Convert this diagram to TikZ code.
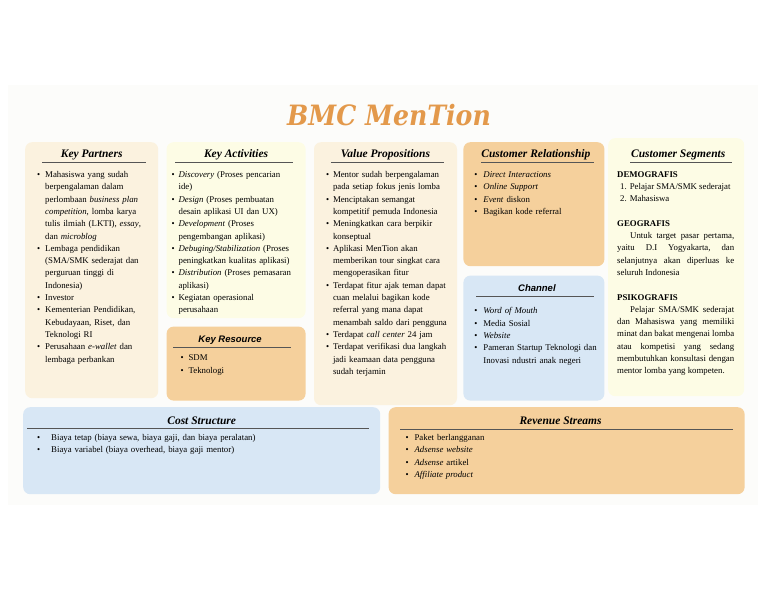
\documentclass[tikz,border=0pt]{standalone}
\usepackage{fontspec}
\setmainfont{Liberation Serif}
\setsansfont{Liberation Sans}
\newfontfamily\judulfont[FakeStretch=0.9]{DejaVu Serif}
\usetikzlibrary{positioning,calc}

\definecolor{halaman}{HTML}{FCFCFA}
\definecolor{krem}{HTML}{FBF2DF}
\definecolor{kuning}{HTML}{FDFCE5}
\definecolor{jingga}{HTML}{F5D09C}
\definecolor{biru}{HTML}{D8E7F5}
\definecolor{oranye}{HTML}{E3994B}
\definecolor{garis}{HTML}{555555}

% butir dengan titik, lebar gantung bisa diatur
\newcommand{\butir}[1][8pt]{\par\leftskip=#1\noindent\llap{\makebox[#1][l]{\textbullet}}\ignorespaces}

\begin{document}
\begin{tikzpicture}[
            x=1pt, y=-1pt,
            kotak/.style = {rectangle, rounded corners=7pt, anchor=north west, inner sep=0pt},
            judulserif/.style = {anchor=base, font=\fontsize{11.5pt}{13pt}\selectfont\bfseries\itshape},
            judulsans/.style = {anchor=base, font=\sffamily\fontsize{9.5pt}{11pt}\selectfont\bfseries\itshape},
            garisbawah/.style = {draw=garis, line width=0.9pt},
            isi/.style = {anchor=north west, inner sep=0pt, align=left, font=\fontsize{8.8pt}{12.3pt}\selectfont}
        ]
        \useasboundingbox (0,0) rectangle (768,594);
        \fill[halaman] (8,85) rectangle (758,505);

        % Judul
        \node[font=\judulfont\fontsize{28pt}{30pt}\selectfont\bfseries\itshape, text=oranye] (judul) at (389,115) {BMC MenTion};

        % Kotak-kotak kanvas
        \node[kotak, fill=krem, minimum width=133pt, minimum height=256pt] (kp) at (25,142) {};
        \node[kotak, fill=kuning, minimum width=139pt, minimum height=176pt, right=8pt of kp.north east, anchor=north west] (ka) {};
        \node[kotak, fill=jingga, minimum width=139pt, minimum height=74pt, below=8pt of ka.south west, anchor=north west] (kr) {};
        \node[kotak, fill=krem, minimum width=143pt, minimum height=263pt, right=8pt of ka.north east, anchor=north west] (vp) {};
        \node[kotak, fill=jingga, minimum width=141pt, minimum height=124pt, right=6pt of vp.north east, anchor=north west] (cr) {};
        \node[kotak, fill=biru, minimum width=141pt, minimum height=125pt, below=9pt of cr.south west, anchor=north west] (ch) {};
        \node[kotak, fill=kuning, minimum width=136pt, minimum height=258pt] (cs) at (608,138) {};
        \node[kotak, fill=biru, minimum width=357pt, minimum height=87pt] (biaya) at (23,407) {};
        \node[kotak, fill=jingga, minimum width=356pt, minimum height=87pt, right=8pt of biaya.north east, anchor=north west] (pendapatan) {};

        % Judul tiap kotak
        \node[judulserif] (kpjudul) at ($(kp.north)+(0,15)$) {Key Partners};
        \node[judulserif] (kajudul) at ($(ka.north)+(0,15)$) {Key Activities};
        \node[judulsans] (krjudul) at ($(kr.north)+(-6,16)$) {Key Resource};
        \node[judulserif] (vpjudul) at ($(vp.north)+(0,15)$) {Value Propositions};
        \node[judulserif] (crjudul) at ($(cr.north)+(2,15)$) {Customer Relationship};
        \node[judulsans] (chjudul) at ($(ch.north)+(3,16)$) {Channel};
        \node[judulserif] (csjudul) at ($(cs.north)+(2,19)$) {Customer Segments};
        \node[judulserif] (biayajudul) at ($(biaya.north)+(0,17)$) {Cost Structure};
        \node[judulserif] (pendapatanjudul) at ($(pendapatan.north)+(-6,17)$) {Revenue Streams};

        % Garis di bawah judul
        \draw[garisbawah] ($(kp.north west)+(17,20)$) -- ($(kp.north east)+(-12,20)$);
        \draw[garisbawah] ($(ka.north west)+(9,20)$) -- ($(ka.north east)+(-13,20)$);
        \draw[garisbawah] ($(kr.north west)+(7,21)$) -- ($(kr.north east)+(-15,21)$);
        \draw[garisbawah] ($(vp.north west)+(17,20)$) -- ($(vp.north east)+(-13,20)$);
        \draw[garisbawah] ($(cr.north west)+(18,20)$) -- ($(cr.north east)+(-11,20)$);
        \draw[garisbawah] ($(ch.north west)+(13,21)$) -- ($(ch.north east)+(-11,21)$);
        \draw[garisbawah] ($(cs.north west)+(22,24)$) -- ($(cs.north east)+(-12,24)$);
        \draw[garisbawah] ($(biaya.north west)+(4,21)$) -- ($(biaya.north east)+(-11,21)$);
        \draw[garisbawah] ($(pendapatan.north west)+(12,22)$) -- ($(pendapatan.north east)+(-12,22)$);

        % Isi tiap kotak
        \node[isi, text width=118pt] (kpisi) at ($(kp.north west)+(12,23)$) {%
            \butir Mahasiswa yang sudah\\ berpengalaman dalam\\ perlombaan \textit{business plan}\\ \textit{competition}, lomba karya\\ tulis ilmiah (LKTI), \textit{essay},\\ dan \textit{microblog}
            \butir Lembaga pendidikan\\ (SMA/SMK sederajat dan\\ perguruan tinggi di\\ Indonesia)
            \butir Investor
            \butir Kementerian Pendidikan,\\ Kebudayaan, Riset, dan\\ Teknologi RI
            \butir Perusahaan \textit{e-wallet} dan\\ lembaga perbankan\par};
        \node[isi, text width=132pt] (kaisi) at ($(ka.north west)+(5,23)$) {%
            \butir[7pt] \textit{Discovery} (Proses pencarian\\ ide)
            \butir[7pt] \textit{Design} (Proses pembuatan\\ desain aplikasi UI dan UX)
            \butir[7pt] \textit{Development} (Proses\\ pengembangan aplikasi)
            \butir[7pt] \textit{Debuging/Stabilization} (Proses\\ peningkatkan kualitas aplikasi)
            \butir[7pt] \textit{Distribution} (Proses pemasaran\\ aplikasi)
            \butir[7pt] Kegiatan operasional\\ perusahaan\par};
        \node[isi, text width=110pt] (krisi) at ($(kr.north west)+(14,22)$) {%
            \butir SDM
            \butir Teknologi\par};
        \node[isi, text width=132pt] (vpisi) at ($(vp.north west)+(12,23)$) {%
            \butir[7pt] Mentor sudah berpengalaman\\ pada setiap fokus jenis lomba
            \butir[7pt] Menciptakan semangat\\ kompetitif pemuda Indonesia
            \butir[7pt] Meningkatkan cara berpikir\\ konseptual
            \butir[7pt] Aplikasi MenTion akan\\ memberikan tour singkat cara\\ mengoperasikan fitur
            \butir[7pt] Terdapat fitur ajak teman dapat\\ cuan melalui bagikan kode\\ referral yang mana dapat\\ menambah saldo dari pengguna
            \butir[7pt] Terdapat \textit{call center} 24 jam
            \butir[7pt] Terdapat verifikasi dua langkah\\ jadi keamaan data pengguna\\ sudah terjamin\par};
        \node[isi, text width=128pt] (crisi) at ($(cr.north west)+(11,23)$) {%
            \butir[9pt] \textit{Direct Interactions}
            \butir[9pt] \textit{Online Support}
            \butir[9pt] \textit{Event} diskon
            \butir[9pt] Bagikan kode referral\par};
        \node[isi, text width=128pt] (chisi) at ($(ch.north west)+(11,26)$) {%
            \butir[9pt] \textit{Word of Mouth}
            \butir[9pt] Media Sosial
            \butir[9pt] \textit{Website}
            \butir[9pt] Pameran Startup Teknologi dan\\ Inovasi ndustri anak negeri\par};
        \node[isi, text width=117pt, align=justify] (csisi) at ($(cs.north west)+(9,33)$) {%
            \tolerance=9999\frenchspacing\parindent=0pt
            \textbf{DEMOGRAFIS}\par
            \hspace*{3pt}1.\hspace{3pt}Pelajar SMA/SMK sederajat\par
            \hspace*{3pt}2.\hspace{3pt}Mahasiswa\par
            \vskip 12.3pt
            \textbf{GEOGRAFIS}\par
            \hspace*{13pt}Untuk target pasar pertama,\linebreak yaitu D.I Yogyakarta, dan\linebreak selanjutnya akan diperluas ke\linebreak seluruh Indonesia\par
            \vskip 12.3pt
            \textbf{PSIKOGRAFIS}\par
            \hspace*{13pt}Pelajar SMA/SMK sederajat\linebreak dan Mahasiswa yang memiliki\linebreak minat dan bakat mengenai lomba\linebreak atau kompetisi yang sedang\linebreak membutuhkan konsultasi dengan\linebreak mentor lomba yang kompeten.\par};
        \node[isi, text width=320pt] (biayaisi) at ($(biaya.north west)+(14,21)$) {%
            \butir[14pt] Biaya tetap (biaya sewa, biaya gaji, dan biaya peralatan)
            \butir[14pt] Biaya variabel (biaya overhead, biaya gaji mentor)\par};
        \node[isi, text width=320pt] (pendapatanisi) at ($(pendapatan.north west)+(17,21)$) {%
            \butir[9pt] Paket berlangganan
            \butir[9pt] \textit{Adsense website}
            \butir[9pt] \textit{Adsense} artikel
            \butir[9pt] \textit{Affiliate product}\par};

    \end{tikzpicture}
\end{document}
